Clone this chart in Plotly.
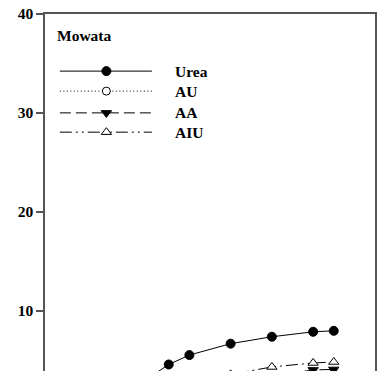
import plotly.graph_objects as go

# Sampling times (x) and measured values for each treatment at the Mowata site
x_urea = [5, 6, 7, 9, 11, 13, 14]
urea = [3.2, 4.6, 5.55, 6.7, 7.4, 7.9, 8.0]

x_au = [11, 13, 14]
au = [3.3, 3.6, 3.7]

x_aa = [11, 13, 14]
aa = [3.4, 4.05, 4.1]

x_aiu = [9, 11, 13, 14]
aiu = [3.6, 4.35, 4.75, 4.85]

series_names = ["Urea", "AU", "AA", "AIU"]
site_label = "Mowata"
y_ticks = [10, 20, 30, 40]

FONT = "Liberation Serif, Times New Roman, serif"
AXIS_COLOR = "#555555"

styles = {
    "Urea": dict(dash="solid", symbol="circle", mcolor="black", msize=9),
    "AU": dict(dash="1px,2.5px", symbol="circle", mcolor="white", msize=8),
    "AA": dict(dash="11px,5px", symbol="triangle-down", mcolor="black", msize=9),
    "AIU": dict(dash="12px,4px,2px,4px,2px,4px", symbol="triangle-up", mcolor="white", msize=9),
}
data = {
    "Urea": (x_urea, urea),
    "AU": (x_au, au),
    "AA": (x_aa, aa),
    "AIU": (x_aiu, aiu),
}

fig = go.Figure()

for name in series_names:
    xs, ys = data[name]
    st = styles[name]
    fig.add_trace(go.Scatter(
        x=xs, y=ys, mode="lines+markers", name=name, showlegend=False,
        line=dict(color="black", width=1, dash=st["dash"]),
        marker=dict(symbol=st["symbol"], size=st["msize"], color=st["mcolor"],
                    line=dict(color="black", width=1)),
    ))

# Hand-made legend keys on an overlay axis spanning the plot area (0..1)
key_x0, key_xm, key_x1 = 0.045, 0.186, 0.324
key_rows = [0.840, 0.784, 0.723, 0.669]
label_x = 0.389
for name, ky in zip(series_names, key_rows):
    st = styles[name]
    fig.add_trace(go.Scatter(
        x=[key_x0, key_x1], y=[ky, ky], mode="lines", showlegend=False,
        xaxis="x2", yaxis="y2", hoverinfo="skip",
        line=dict(color="black", width=1, dash=st["dash"]),
    ))
    fig.add_trace(go.Scatter(
        x=[key_xm], y=[ky], mode="markers", showlegend=False,
        xaxis="x2", yaxis="y2", hoverinfo="skip",
        marker=dict(symbol=st["symbol"], size=st["msize"], color=st["mcolor"],
                    line=dict(color="black", width=1)),
    ))
    fig.add_annotation(
        x=label_x, y=ky, xref="paper", yref="paper", text=name,
        showarrow=False, xanchor="left", yanchor="middle",
        font=dict(family=FONT, size=15.5, color="black", weight="bold"),
    )

fig.add_annotation(
    x=0.030, y=0.941, xref="paper", yref="paper", text=site_label,
    showarrow=False, xanchor="left", yanchor="middle",
    font=dict(family=FONT, size=15.5, color="black", weight="bold"),
)

fig.update_layout(
    width=385, height=371,
    margin=dict(l=45, r=10, t=14, b=0),
    paper_bgcolor="white", plot_bgcolor="white",
    showlegend=False,
    xaxis=dict(
        range=[0, 16], side="top", showline=True, linecolor=AXIS_COLOR,
        linewidth=1.5, ticks="", showticklabels=False, showgrid=False,
        zeroline=False,
    ),
    yaxis=dict(
        range=[3.94, 40], tickvals=y_ticks, ticks="outside", ticklen=7,
        tickwidth=1.5, tickcolor=AXIS_COLOR, showline=True, mirror=True,
        linecolor=AXIS_COLOR, linewidth=1.5, showgrid=False, zeroline=False,
        tickfont=dict(family=FONT, size=15.5, color="black", weight="bold"),
    ),
    xaxis2=dict(range=[0, 1], overlaying="x", visible=False),
    yaxis2=dict(range=[0, 1], overlaying="y", visible=False),
)

fig.write_html("out.html")
